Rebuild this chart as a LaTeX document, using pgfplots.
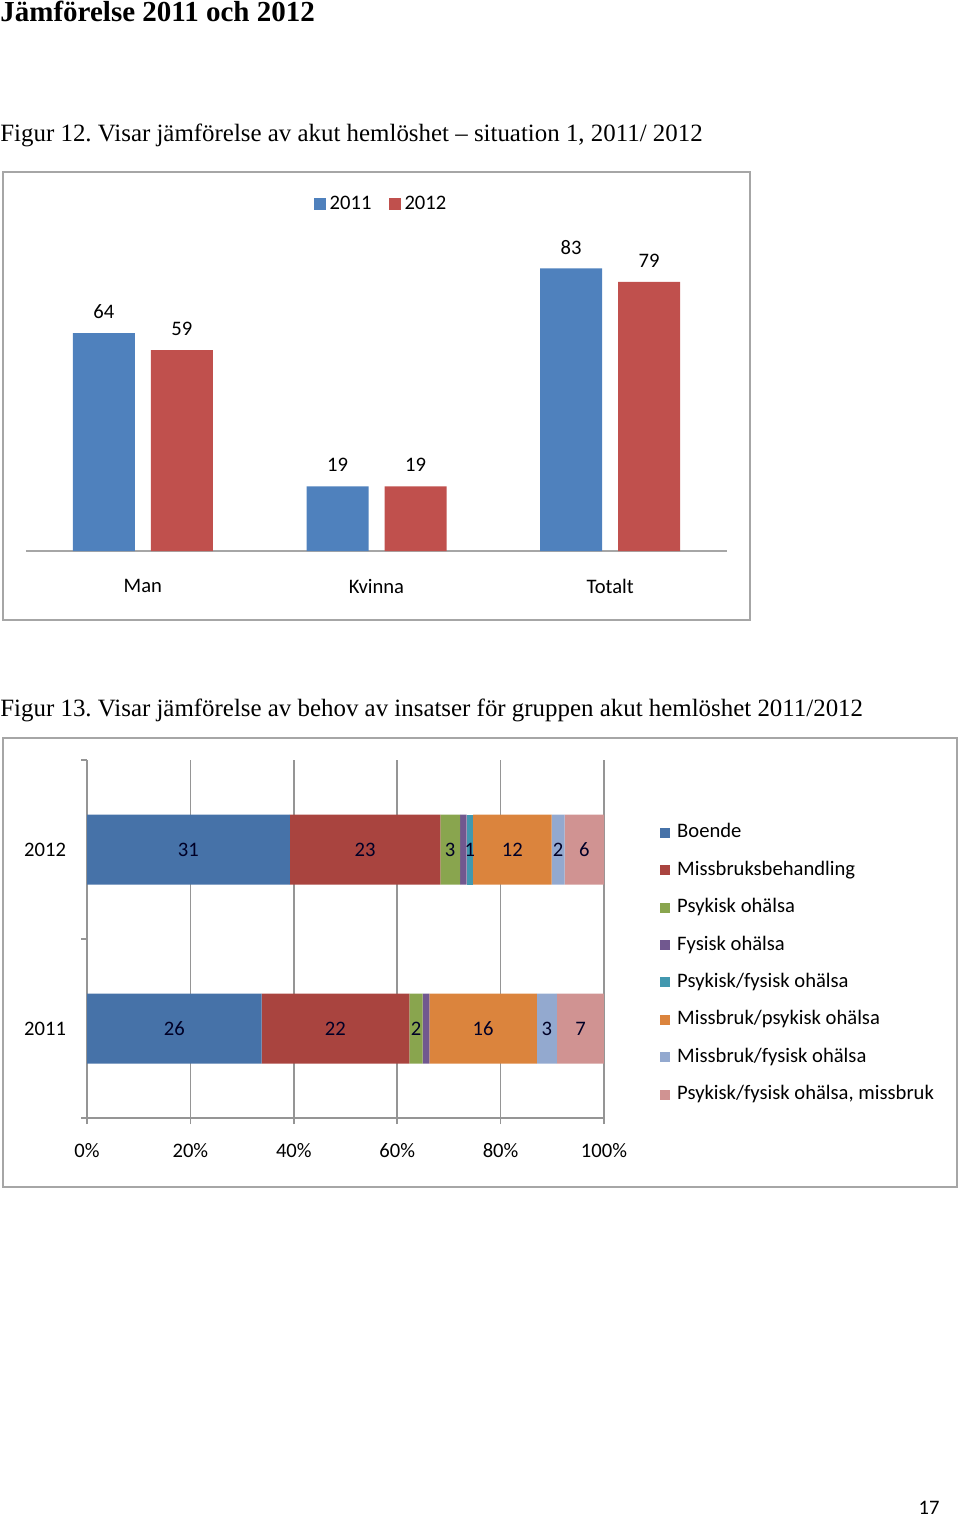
\documentclass[border=0pt]{standalone}
\usepackage{fontspec}
\setmainfont{Carlito}
\newfontfamily\tnr{Liberation Serif}
\usepackage{pgfplots}
\pgfplotsset{compat=1.18}
\usepackage{pgfplotstable}
\frenchspacing

\definecolor{c2011}{HTML}{4F81BD}
\definecolor{c2012}{HTML}{C0504D}
\definecolor{framegray}{HTML}{A6A6A6}
\definecolor{axgray}{HTML}{959595}
\definecolor{cBoende}{HTML}{4672A8}
\definecolor{cMissbr}{HTML}{A9443F}
\definecolor{cPsyk}{HTML}{89A54E}
\definecolor{cFys}{HTML}{71588F}
\definecolor{cPsykFys}{HTML}{4298AF}
\definecolor{cMissPsyk}{HTML}{DB843D}
\definecolor{cMissFys}{HTML}{93A9CF}
\definecolor{cAlla}{HTML}{D09392}

\newcommand{\cf}{\fontsize{10.3}{12}\selectfont}

% behov av insatser, antal personer per grupp
\pgfplotstableread{
y total boende missbr psyk fys psykfys misspsyk missfys alla
0 77 26 22 2 1 0 16 3 7
1 79 31 23 3 1 1 12 2 6
}\behov

\pgfplotsset{
  seg/.style={
    point meta=\thisrow{#1},
    nodes near coords,
    every node near coord/.style={font=\cf, anchor=center, text=black!85!blue},
  },
}

\begin{document}
\begin{tikzpicture}[x=0.5pt,y=-0.5pt]
\path[use as bounding box] (0,0) rectangle (960,1518);

\node[anchor=base west, inner sep=0pt, font=\tnr\bfseries\fontsize{14.5}{16}\selectfont] at (0,22) {Jämförelse 2011 och 2012};
\node[anchor=base west, inner sep=0pt, font=\tnr\fontsize{12.45}{14}\selectfont] at (0,142) {Figur 12. Visar jämförelse av akut hemlöshet – situation 1, 2011/ 2012};
\node[anchor=base west, inner sep=0pt, font=\tnr\fontsize{12.45}{14}\selectfont] at (0,716) {Figur 13. Visar jämförelse av behov av insatser för gruppen akut hemlöshet 2011/2012};
\node[font=\cf] at (929,1508) {17};

\draw[framegray, line width=1pt] (3,172) rectangle (750,620);
\draw[framegray, line width=1pt] (3,738) rectangle (957,1187);

\begin{axis}[
  at={(13pt,-275.5pt)}, anchor=south west,
  scale only axis, width=350.5pt, height=153.25pt,
  ybar, enlargelimits=false,
  xmin=-0.5, xmax=2.5, ymin=0, ymax=90,
  axis x line*=bottom, axis y line=none,
  axis line style={draw=framegray, line width=0.8pt, -},
  xtick={0,1,2}, xticklabels={Man,Kvinna,Totalt},
  major tick length=0pt,
  xticklabel style={font=\cf, anchor=center, yshift=-17.5pt},
  nodes near coords,
  every node near coord/.append style={font=\cf, anchor=center, yshift=10.5pt},
  /pgf/number format/assume math mode=true,
  clip=false,
  legend style={at={(0.505,1.132)}, anchor=center, draw=none, fill=none,
    legend columns=-1, font=\cf, inner sep=0pt,
    nodes={inner sep=0pt},
    /tikz/every even column/.append style={column sep=8.5pt},
    /tikz/every odd column/.append style={column sep=2pt}},
  legend image code/.code={\fill[#1] (0pt,-3pt) rectangle (6pt,3pt);},
]
\addplot[fill=c2011, draw=none, bar width=31pt, bar shift=-19.5pt]
  coordinates {(0,64) (1,19) (2,83)};
\addlegendentry{2011}
\addplot[fill=c2012, draw=none, bar width=31pt, bar shift=19.5pt]
  coordinates {(0,59) (1,19) (2,79)};
\addlegendentry{2012}
\end{axis}

\begin{axis}[
  at={(43.5pt,-559pt)}, anchor=south west,
  scale only axis, width=258.5pt, height=179pt,
  xbar stacked, bar width=35pt, enlargelimits=false,
  xmin=0, xmax=100, ymin=-0.5, ymax=1.5,
  axis x line*=bottom, axis y line*=left,
  axis line style={draw=axgray, line width=0.8pt, -},
  xtick={0,20,...,100}, xticklabels={0\%,20\%,40\%,60\%,80\%,100\%},
  xmajorgrids, grid style={draw=axgray, line width=0.8pt},
  tick align=outside, major tick length=3pt,
  tick style={draw=axgray, line width=0.8pt},
  xticklabel style={font=\cf, anchor=center, yshift=-13.5pt},
  ytick={-0.5,0.5,1.5}, yticklabels={,,},
  extra y ticks={0,1}, extra y tick labels={2011,2012},
  extra y tick style={major tick length=0pt,
    yticklabel style={font=\cf, anchor=east, xshift=-7pt}},
  /pgf/number format/assume math mode=true,
  clip=false,
  legend style={at={(1.108,0.824)}, anchor=north west, draw=none, fill=none,
    font=\cf, inner sep=0pt, row sep=9.4pt,
    nodes={inner sep=0pt, text height=7.2pt, text depth=2.1pt},
    /tikz/every odd column/.append style={column sep=3.5pt}},
  legend cell align=left,
  legend image code/.code={\fill[#1] (0pt,-2.5pt) rectangle (5pt,2.5pt);},
]
\addplot[fill=cBoende, draw=none, seg=boende]
  table[y=y, x expr=\thisrow{boende}/\thisrow{total}*100] {\behov};
\addlegendentry{Boende}
\addplot[fill=cMissbr, draw=none, seg=missbr]
  table[y=y, x expr=\thisrow{missbr}/\thisrow{total}*100] {\behov};
\addlegendentry{Missbruksbehandling}
\addplot[fill=cPsyk, draw=none, seg=psyk]
  table[y=y, x expr=\thisrow{psyk}/\thisrow{total}*100] {\behov};
\addlegendentry{Psykisk ohälsa}
\addplot[fill=cFys, draw=none]
  table[y=y, x expr=\thisrow{fys}/\thisrow{total}*100] {\behov};
\addlegendentry{Fysisk ohälsa}
\addplot[fill=cPsykFys, draw=none, seg=psykfys]
  table[y=y, x expr=\thisrow{psykfys}/\thisrow{total}*100] {\behov};
\addlegendentry{Psykisk/fysisk ohälsa}
\addplot[fill=cMissPsyk, draw=none, seg=misspsyk]
  table[y=y, x expr=\thisrow{misspsyk}/\thisrow{total}*100] {\behov};
\addlegendentry{Missbruk/psykisk ohälsa}
\addplot[fill=cMissFys, draw=none, seg=missfys]
  table[y=y, x expr=\thisrow{missfys}/\thisrow{total}*100] {\behov};
\addlegendentry{Missbruk/fysisk ohälsa}
\addplot[fill=cAlla, draw=none, seg=alla]
  table[y=y, x expr=\thisrow{alla}/\thisrow{total}*100] {\behov};
\addlegendentry{Psykisk/fysisk ohälsa, missbruk}
\end{axis}
\end{tikzpicture}
\end{document}
